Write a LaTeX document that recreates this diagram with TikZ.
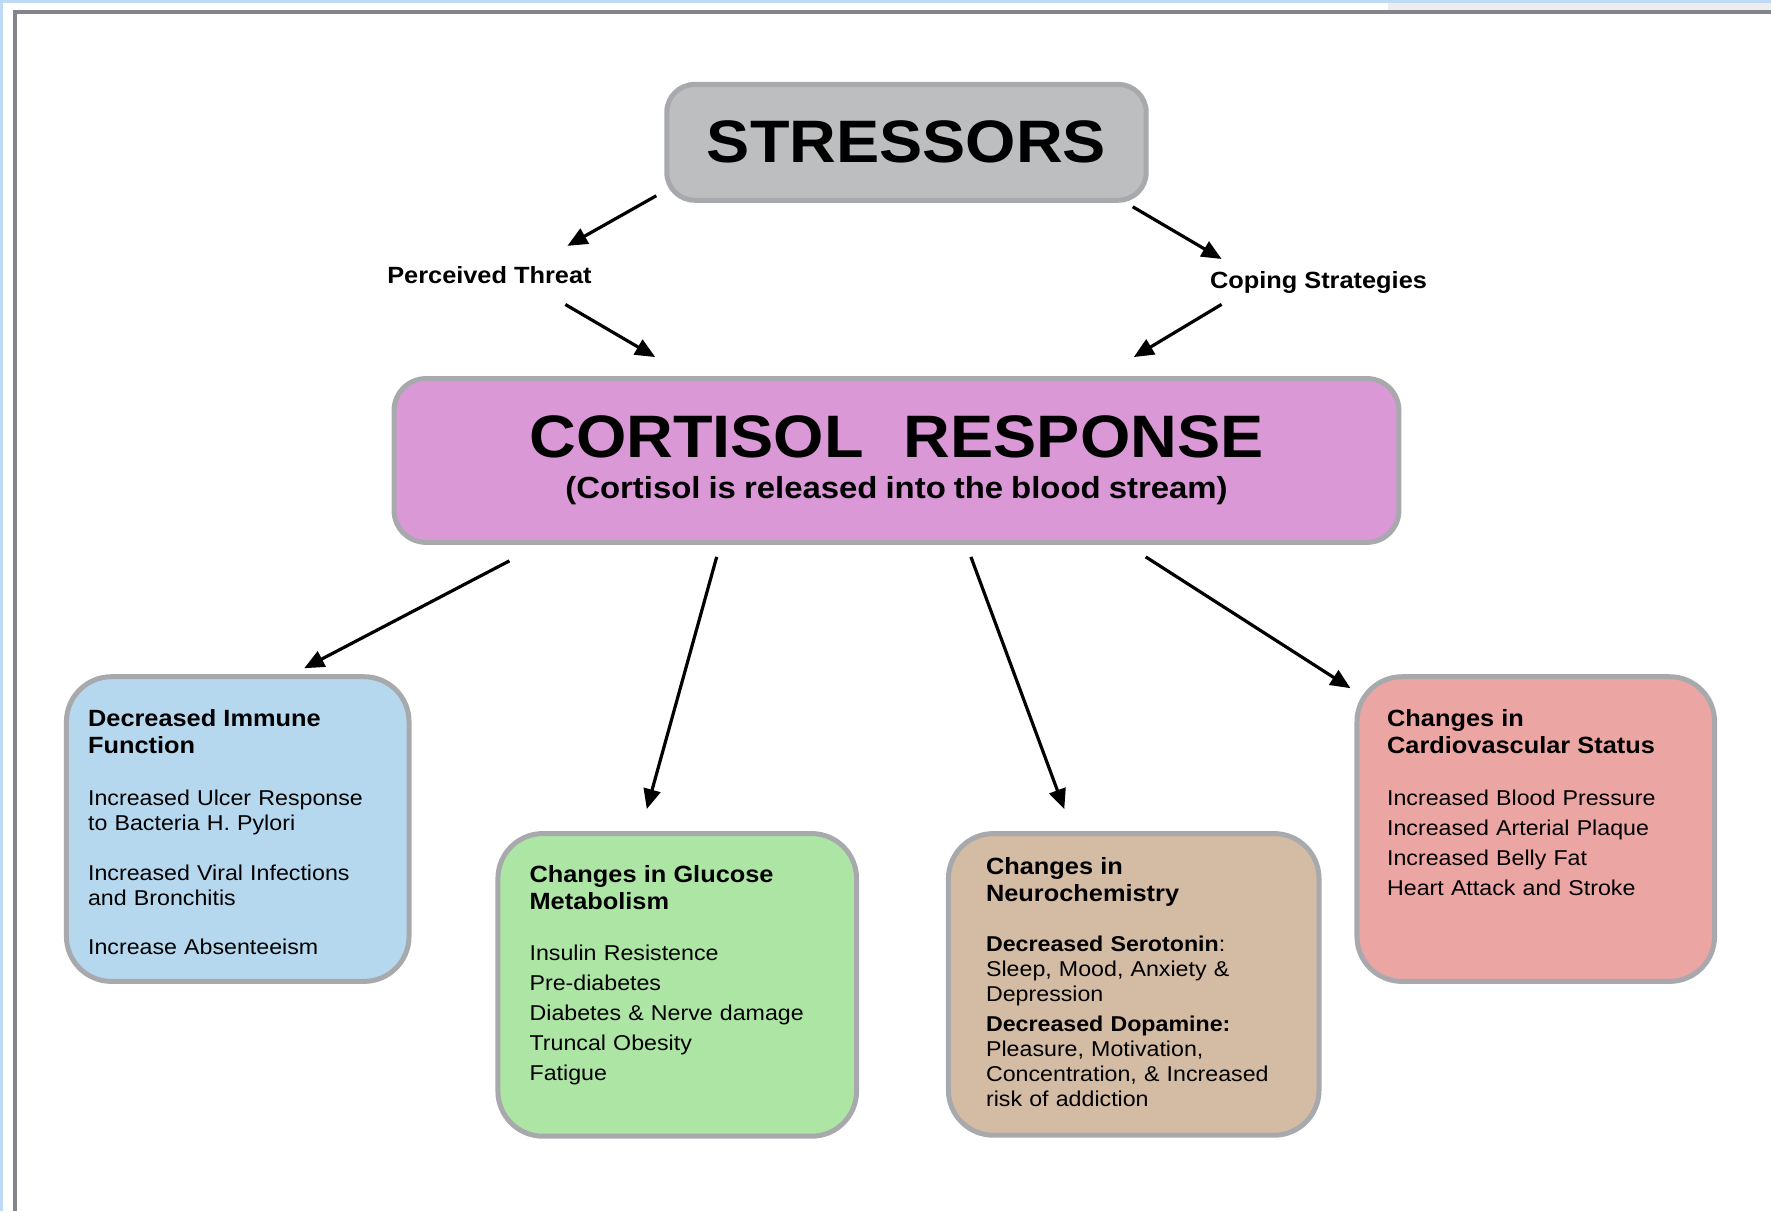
\documentclass[tikz,border=0pt]{standalone}
\usepackage{fontspec}
\setmainfont{Liberation Sans}[FakeStretch=1.08]
\usetikzlibrary{positioning, arrows.meta, calc}
\definecolor{boxgray}{RGB}{167,169,172}
\definecolor{stressgray}{RGB}{188,190,192}
\definecolor{cortpink}{RGB}{218,152,214}
\definecolor{immblue}{RGB}{181,216,239}
\definecolor{glugreen}{RGB}{173,229,165}
\definecolor{neurotan}{RGB}{212,187,163}
\definecolor{cardred}{RGB}{235,165,163}
\definecolor{frameblue}{RGB}{190,218,244}
\definecolor{framegray}{RGB}{130,134,138}
\setlength{\parindent}{0pt}
\newcommand{\boxhead}[1]{{\fontsize{23.5}{27}\selectfont\bfseries #1\par}}

\begin{document}
\begin{tikzpicture}[x=1pt, y=-1pt,
  rbox/.style={draw=boxgray, line width=5pt, rounded corners=45pt, anchor=north west, inner sep=0pt},
  btxt/.style={anchor=north west, inner sep=0pt, text width=340pt, align=left, font=\fontsize{21.5}{25}\selectfont},
  lbl/.style={inner sep=0pt, font=\fontsize{23.5}{27}\selectfont\bfseries},
  arr/.style={-{Triangle[length=20pt,width=17pt]}, line width=3.2pt},
]
  \fill[white] (0,0) rectangle (1773,1212);
  \fill[frameblue] (0,0) rectangle (1773,3);
  \fill[frameblue] (0,0) rectangle (3,1212);
  \fill[black!7] (1390,3) rectangle (1773,10);
  \draw[framegray, line width=4pt] (15,1212) -- (15,12) -- (1773,12);
  \useasboundingbox (0,0) rectangle (1773,1212);

  \node[rbox, fill=stressgray, rounded corners=28pt, minimum width=480pt, minimum height=116pt,
    anchor=center, font=\fontsize{60}{60}\selectfont\bfseries] (stress) at (907.5,142.5) {STRESSORS};
  \node[rbox, fill=cortpink, rounded corners=32pt, minimum width=1006pt, minimum height=164pt,
    anchor=center, text width=1006pt, align=center, font=\fontsize{60}{60}\selectfont\bfseries] (cortisol) at (897.5,461)
    {CORTISOL\hspace{40pt}RESPONSE\par
     {\fontsize{30.5}{41.5}\selectfont\spaceskip=8pt (Cortisol is released into the blood stream)\par}};

  \node[lbl] (threat) at (490,275) {Perceived Threat};
  \node[lbl] (coping) at (1320,282.5) {Coping Strategies};

  \node[rbox, fill=immblue, minimum width=343pt, minimum height=305pt] (immune) at (64,675) {};
  \node[rbox, fill=glugreen, minimum width=359pt, minimum height=303pt] (glucose) at (496,832) {};
  \node[rbox, fill=neurotan, minimum width=371pt, minimum height=302pt] (neuro) at (947,832) {};
  \node[rbox, fill=cardred, minimum width=358pt, minimum height=305pt] (cardio) at (1356,675) {};

  \node[btxt] (immunetxt) at ($(immune.north west)+(24,35.5)$)
    {\boxhead{Decreased Immune\\Function}\vspace{27pt}Increased Ulcer Response\\to Bacteria H. Pylori\\[25pt]Increased Viral Infections\\and Bronchitis\\[24pt]Increase Absenteeism};
  \node[btxt, font=\fontsize{21.5}{30}\selectfont] (glucosetxt) at ($(glucose.north west)+(34,34.5)$)
    {\boxhead{Changes in Glucose\\Metabolism}\vspace{21pt}Insulin Resistence\\Pre-diabetes\\Diabetes \& Nerve damage\\Truncal Obesity\\Fatigue};
  \node[btxt] (neurotxt) at ($(neuro.north west)+(40,26.5)$)
    {\boxhead{Changes in\\Neurochemistry}\vspace{25pt}\textbf{Decreased Serotonin}:\\Sleep, Mood, Anxiety \&\\Depression\\[5pt]\textbf{Decreased Dopamine:}\\Pleasure, Motivation,\\Concentration, \& Increased\\risk of addiction};
  \node[btxt, font=\fontsize{21.5}{30}\selectfont] (cardiotxt) at ($(cardio.north west)+(32.5,35.5)$)
    {\boxhead{Changes in\\Cardiovascular Status}\vspace{22pt}Increased Blood Pressure\\Increased Arterial Plaque\\Increased Belly Fat\\Heart Attack and Stroke};

  \draw[arr] ($(stress.south west)+(-8,-7)$) -- ($(threat.north)+(78,-20)$);
  \draw[arr] ($(threat.south)+(76,21)$) -- ($(cortisol.north west)+(264,-19)$);
  \draw[arr] ($(stress.south east)+(-16,4)$) -- ($(coping.north)+(-97,-12)$);
  \draw[arr] ($(coping.south)+(-97,11)$) -- ($(cortisol.north east)+(-268,-19)$);
  \draw[arr] ($(cortisol.south west)+(118,16)$) -- ($(immune.north)+(66.5,-6)$);
  \draw[arr] ($(cortisol.south)+(-180,12)$) -- ($(glucose.north)+(-30.5,-22)$);
  \draw[arr] ($(cortisol.south)+(74.5,12)$) -- ($(neuro.north)+(-69.5,-22)$);
  \draw[arr] ($(cortisol.south east)+(-256,12)$) -- ($(cardio.north west)+(-4,14)$);
\end{tikzpicture}
\end{document}
